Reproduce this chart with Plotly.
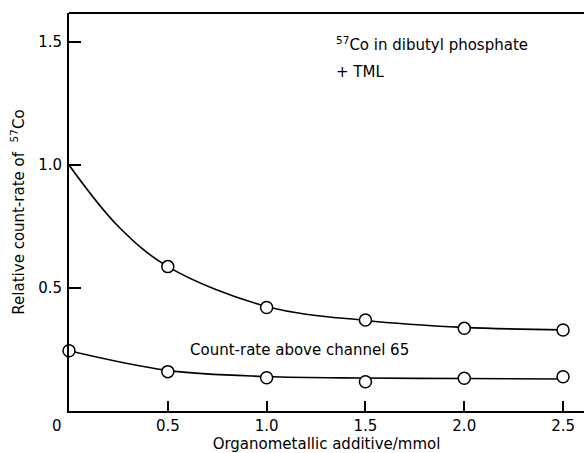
import plotly.graph_objects as go

# Data
x_pts = [0.5, 1.0, 1.5, 2.0, 2.5]
upper_pts = [0.587, 0.421, 0.370, 0.336, 0.329]
lower_x = [0.0, 0.5, 1.0, 1.5, 2.0, 2.5]
lower_pts = [0.245, 0.160, 0.135, 0.119, 0.133, 0.139]

# Smooth fitted curves as drawn
upper_curve_x = [0.0, 0.25, 0.5, 1.0, 1.5, 2.0, 2.5]
upper_curve_y = [1.0, 0.75, 0.587, 0.425, 0.368, 0.340, 0.330]
lower_curve_x = [0.0, 0.5, 1.0, 1.5, 2.0, 2.5]
lower_curve_y = [0.245, 0.165, 0.140, 0.134, 0.132, 0.130]

xticks = [0.5, 1.0, 1.5, 2.0, 2.5]
xticklabels = ["0.5", "1.0", "1.5", "2.0", "2.5"]
yticks = [0.5, 1.0, 1.5]
yticklabels = ["0.5", "1.0", "1.5"]

FONT = "DejaVu Sans, Liberation Sans, sans-serif"
FS = 15

fig = go.Figure()
line_style = dict(color="black", width=1.6, shape="spline", smoothing=1.0)
fig.add_trace(go.Scatter(x=upper_curve_x, y=upper_curve_y, mode="lines",
                         line=line_style, hoverinfo="skip"))
fig.add_trace(go.Scatter(x=lower_curve_x, y=lower_curve_y, mode="lines",
                         line=line_style, hoverinfo="skip"))
marker_style = dict(symbol="circle", size=12, color="white",
                    line=dict(color="black", width=1.5))
fig.add_trace(go.Scatter(x=x_pts, y=upper_pts, mode="markers", marker=marker_style,
                         cliponaxis=False))
fig.add_trace(go.Scatter(x=lower_x, y=lower_pts, mode="markers", marker=marker_style,
                         cliponaxis=False))

fig.update_layout(
    width=584, height=453,
    margin=dict(l=69, r=0, t=13, b=42),
    paper_bgcolor="white", plot_bgcolor="white",
    showlegend=False,
    font=dict(family=FONT, size=FS, color="black"),
    xaxis=dict(range=[0, 2.606], tickvals=xticks, ticktext=xticklabels,
               ticks="inside", ticklen=10, tickwidth=1.5, tickcolor="black",
               showline=True, linecolor="black", linewidth=2, mirror=False,
               showgrid=False, zeroline=False,
               tickfont=dict(size=FS), ticklabelstandoff=0,
               title=dict(text="Organometallic additive/mmol", font=dict(size=FS), standoff=1)),
    yaxis=dict(range=[0, 1.618], tickvals=yticks, ticktext=yticklabels,
               ticks="inside", ticklen=12, tickwidth=1.5, tickcolor="black",
               showline=True, linecolor="black", linewidth=2,
               showgrid=False, zeroline=False,
               tickfont=dict(size=FS), ticklabelstandoff=2,
               title=dict(text="Relative count-rate of  <sup>57</sup>Co", font=dict(size=FS), standoff=10)),
)

# Top frame line
fig.add_shape(type="line", xref="paper", yref="paper", x0=0, x1=1, y0=1, y1=1,
              line=dict(color="black", width=2))

fig.add_annotation(x=0, y=0, xref="x", yref="paper", text="0", showarrow=False,
                   xanchor="center", yanchor="top",
                   xshift=-12, yshift=-4, font=dict(size=FS))
fig.add_annotation(x=1.34, y=1.49, xref="x", yref="y", xanchor="left",
                   text="<sup>57</sup>Co in dibutyl phosphate", showarrow=False,
                   font=dict(size=FS))
fig.add_annotation(x=1.34, y=1.38, xref="x", yref="y", xanchor="left",
                   text="+ TML", showarrow=False, font=dict(size=FS))
fig.add_annotation(x=0.6, y=0.246, xref="x", yref="y", xanchor="left",
                   text="Count-rate above channel 65", showarrow=False,
                   font=dict(size=FS))

fig.write_html("out.html")
